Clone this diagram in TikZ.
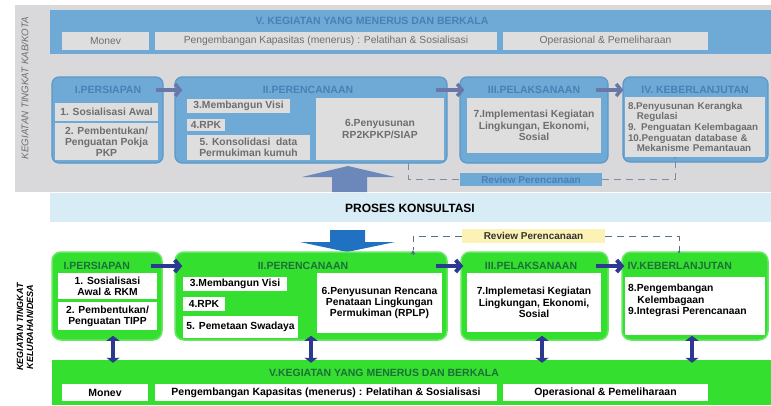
\documentclass[tikz,border=0pt]{standalone}
\usepackage{fontspec}
\setmainfont{Liberation Sans}
\usetikzlibrary{arrows.meta}
\definecolor{panelgray}{HTML}{D9D9DB}
\definecolor{tblue}{HTML}{6FA9D6}
\definecolor{tblueD}{HTML}{5E98C6}
\definecolor{tinner}{HTML}{DEDEDF}
\definecolor{ttext}{HTML}{6E6E70}
\definecolor{ttitle}{HTML}{4A80B6}
\definecolor{tarrow}{HTML}{6878A6}
\definecolor{kons}{HTML}{D7ECF4}
\definecolor{bigup}{HTML}{6C88BA}
\definecolor{bigdown}{HTML}{2171C2}
\definecolor{gbox}{HTML}{35DF2F}
\definecolor{gtitle}{HTML}{1E6E3C}
\definecolor{navy}{HTML}{2B3990}
\definecolor{revy}{HTML}{FCF2B5}
\definecolor{dashgray}{HTML}{7A8CA6}
\definecolor{dashblue}{HTML}{55708F}
\newcommand\fs[2]{\fontsize{#1}{#2}\selectfont}
\newcommand\bx[7]{%
  \pgfmathsetmacro\bxcx{(#3+#5)/2}\pgfmathsetmacro\bxcy{(#4+#6)/2}%
  \pgfmathsetmacro\bxw{#5-#3}\pgfmathsetmacro\bxh{#6-#4}%
  \node[#2,minimum width=\bxw pt,minimum height=\bxh pt,inner sep=0pt] (#1) at (\bxcx,\bxcy) {#7};}
\begin{document}
\begin{tikzpicture}[x=1pt,y=-1pt,
  tpanel/.style={fill=panelgray,draw=none},
  tbox/.style={fill=tblue,draw=tblueD,line width=1.2pt,rounded corners=7pt},
  tbar/.style={fill=tblue,draw=none},
  tin/.style={fill=tinner,draw=none,text=ttext,font=\bfseries\fs{10.3}{11.2},align=center},
  tinr/.style={fill=tinner,draw=none,text=ttext,font=\fs{10.3}{12},align=center},
  ttl/.style={text=ttitle,font=\bfseries\fs{10.5}{12}},
  gb/.style={fill=gbox,draw=gbox!75!white,line width=1.5pt,rounded corners=9pt},
  gbar/.style={fill=gbox,draw=none},
  gin/.style={fill=white,draw=none,text=black,font=\bfseries\fs{10.3}{11.2},align=center},
  gtl/.style={text=gtitle,font=\bfseries\fs{10.5}{12}},
  tarr/.style={line width=3.5pt,draw=tarrow,-{Straight Barb[length=5pt,width=12pt]}},
  garr/.style={line width=4pt,draw=navy,-{Straight Barb[length=5pt,width=12pt]}},
  darr/.style={line width=3.5pt,draw=navy,{Triangle[length=5pt,width=13pt]}-{Triangle[length=5pt,width=13pt]}},
  tdash/.style={draw=dashgray,line width=0.9pt,dash pattern=on 7pt off 5pt},
  gdash/.style={draw=dashblue,line width=0.9pt,dash pattern=on 7pt off 5pt}]
\useasboundingbox[fill=white] (0,0) rectangle (771,405);

% ---------- top panel (Kab/Kota) ----------
\fill[tpanel] (15,5) rectangle (771,192);
\node[rotate=90,text=ttext,font=\itshape\fs{9.7}{11}] (lblTop) at (25,88) {KEGIATAN TINGKAT KAB/KOTA};
\bx{tbar}{tbar}{50}{10}{771}{54}{}
\node[ttl] (tbarT) at (372,21) {V. KEGIATAN YANG MENERUS DAN BERKALA};
\bx{tm1}{tinr}{62}{32}{149}{50}{Monev}
\bx{tm2}{tinr}{155}{32}{497}{50}{Pengembangan Kapasitas (menerus) : Pelatihan \& Sosialisasi}
\bx{tm3}{tinr}{503}{32}{708}{50}{Operasional \& Pemeliharaan}

\bx{tp1}{tbox}{52}{77}{163}{163}{}
\bx{tp2}{tbox}{175}{77}{447}{163}{}
\bx{tp3}{tbox}{460}{77}{608}{163}{}
\bx{tp4}{tbox}{623}{77}{768}{162}{}
\node[ttl] (tt1) at (108,90) {I.PERSIAPAN};
\node[ttl] (tt2) at (308,90) {II.PERENCANAAN};
\node[ttl] (tt3) at (534,90) {III.PELAKSANAAN};
\node[ttl] (tt4) at (695,90) {IV. KEBERLANJUTAN};
\bx{ta1}{tin}{55}{103}{158}{121}{1. Sosialisasi Awal}
\bx{ta2}{tin}{55}{123}{158}{160}{2. Pembentukan/\\Penguatan Pokja\\PKP}
\bx{ta3}{tin}{187}{99}{290}{113}{3.Membangun Visi}
\bx{ta4}{tin}{187}{119}{225}{131}{4.RPK}
\bx{ta5}{tin}{187}{135}{310}{160}{5. Konsolidasi\ \ data\\Permukiman kumuh}
\bx{ta6}{tin}{316}{98}{444}{160}{6.Penyusunan\\RP2KPKP/SIAP}
\bx{ta7}{tin}{467}{98}{601}{153}{7.Implementasi Kegiatan\\Lingkungan, Ekonomi,\\Sosial}
\bx{ta8}{tin,align=left,text width=134pt,font=\bfseries\fs{9.8}{10.6}}{625}{97}{765}{157}{8.Penyusunan Kerangka\\\hspace*{0.9em}Regulasi\\9. Penguatan Kelembagaan\\10.Penguatan database \&\\\hspace*{0.9em}Mekanisme Pemantauan}
\draw[tarr] ([xshift=-8pt]tp1.east |- tt1) -- ([xshift=8pt]tp2.west |- tt1);
\draw[tarr] ([xshift=-12pt]tp2.east |- tt2) -- ([xshift=5pt]tp3.west |- tt2);
\draw[tarr] ([xshift=-13pt]tp3.east |- tt3) -- ([xshift=1pt]tp4.west |- tt4);

% review (top)
\bx{rev1}{fill=tblue,draw=none,text=ttitle,font=\bfseries\fs{10}{11}}{460}{173}{602}{186}{Review Perencanaan}
\coordinate (d1) at (408,163);
\coordinate (d2) at (675,158);
\draw[tdash] (d1) |- (rev1.west);
\draw[tdash] (rev1.east) -| (d2);
\fill[dashgray] (d2) circle (1.2pt);

% big up arrow
\fill[bigup] (332,192) -- (332,177) -- (302,177) -- (348,166) -- (395,177) -- (367,177) -- (367,192) -- cycle;

% ---------- proses konsultasi ----------
\fill[kons] (50,193) rectangle (771,222);
\node[font=\bfseries\fs{12}{14}] (kons) at (410,208) {PROSES KONSULTASI};

% big down arrow
\fill[bigdown] (330,230) -- (365,230) -- (365,242) -- (395,242) -- (347,252) -- (300,242) -- (330,242) -- cycle;

% ---------- bottom (Kelurahan/Desa) ----------
\node[rotate=90,align=center,font=\bfseries\itshape\fs{9}{10}] (lblBot) at (25,327) {KEGIATAN TINGKAT\\KELURAHAN/DESA};

\bx{gp1}{gb}{52}{252}{162}{340}{}
\bx{gp2}{gb}{175}{252}{447}{340}{}
\bx{gp3}{gb}{461}{252}{608}{340}{}
\bx{gp4}{gb}{622}{252}{768}{340}{}
\node[gtl,anchor=west] (gt1) at (60,266) {I.PERSIAPAN};
\node[gtl] (gt2) at (303,266) {II.PERENCANAAN};
\node[gtl] (gt3) at (531,266) {III.PELAKSANAAN};
\node[gtl,anchor=west] (gt4) at (624,266) {IV.KEBERLANJUTAN};
\bx{ga1}{gin}{58}{273}{157}{299}{1. Sosialisasi\\Awal \& RKM}
\bx{ga2}{gin}{58}{302}{157}{330}{2. Pembentukan/\\Penguatan TIPP}
\bx{ga3}{gin}{183}{277}{287}{291}{3.Membangun Visi}
\bx{ga4}{gin}{183}{297}{225}{311}{4.RPK}
\bx{ga5}{gin}{183}{316}{298}{338}{5. Pemetaan Swadaya}
\bx{ga6}{gin}{317}{273}{442}{333}{6.Penyusunan Rencana\\Penataan Lingkungan\\Permukiman (RPLP)}
\bx{ga7}{gin}{467}{273}{601}{332}{7.Implemetasi Kegiatan\\Lingkungan, Ekonomi,\\Sosial}
\bx{ga8}{gin}{625}{277}{765}{335}{}
\node[font=\bfseries\fs{10.3}{11.4},align=left,anchor=north west,inner sep=0pt] (ga8t) at (628,284) {8.Pengembangan\\\hspace*{0.9em}Kelembagaan\\9.Integrasi Perencanaan};
\draw[garr] ([xshift=-12pt]gp1.east |- gt1) -- ([xshift=8pt]gp2.west |- gt1);
\draw[garr] ([xshift=-12pt]gp2.east |- gt2) -- ([xshift=3pt]gp3.west |- gt2);
\draw[garr] ([xshift=-13pt]gp3.east |- gt3) -- ([xshift=3pt]gp4.west |- gt3);

% review (bottom)
\bx{rev2}{fill=revy,draw=none,text=black!80,font=\bfseries\fs{10}{11}}{462}{229}{605}{243}{Review Perencanaan}
\coordinate (e1) at (413,250);
\coordinate (e2) at (679,252);
\draw[gdash] (rev2.west) -| (e1);
\draw[gdash] (rev2.east) -| (e2);
\draw[dashblue,line width=0.9pt,-{Triangle[length=4pt,width=4pt]}] ([yshift=-4pt]e1) -- (e1);
\fill[dashblue] (e2) circle (1.3pt);

% bottom bar
\bx{gbar}{gbar}{52}{360}{771}{405}{}
\node[gtl] (gbarT) at (384,373) {V.KEGIATAN YANG MENERUS DAN BERKALA};
\bx{gm1}{gin,font=\bfseries\fs{10.5}{12}}{62}{384}{148}{401}{Monev}
\bx{gm2}{gin,font=\bfseries\fs{10.5}{12}}{155}{384}{497}{401}{Pengembangan Kapasitas (menerus) : Pelatihan \& Sosialisasi}
\bx{gm3}{gin,font=\bfseries\fs{10.5}{12}}{503}{384}{708}{401}{Operasional \& Pemeliharaan}

% double arrows
\draw[darr] ([yshift=5pt]gp1.south -| 113,0) -- ([yshift=-3pt]gbar.north -| 113,0);
\draw[darr] ([yshift=5pt]gp2.south -| 311,0) -- ([yshift=-3pt]gbar.north -| 311,0);
\draw[darr] ([yshift=5pt]gp3.south -| 542,0) -- ([yshift=-3pt]gbar.north -| 542,0);
\draw[darr] ([yshift=5pt]gp4.south -| 692,0) -- ([yshift=-3pt]gbar.north -| 692,0);
\end{tikzpicture}
\end{document}
